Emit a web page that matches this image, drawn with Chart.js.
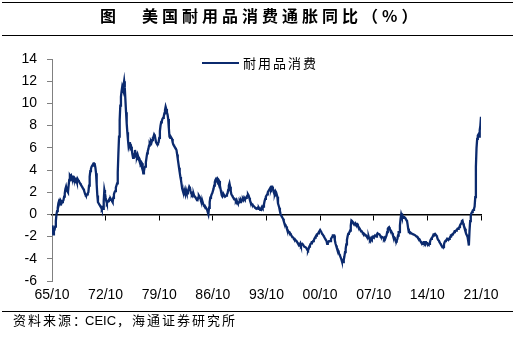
<!DOCTYPE html>
<html>
<head>
<meta charset="utf-8">
<script src="https://cdn.jsdelivr.net/npm/chart.js@4.4.0/dist/chart.umd.min.js"></script>
<style>
    body { margin: 0; width: 515px; height: 345px; position: relative; background: #fff; overflow: hidden; font-family: "Noto Sans CJK SC", sans-serif; }
    #wrap { position: absolute; left: 0; top: 0; width: 515px; height: 345px; }
    .rule { position: absolute; left: 2px; width: 511px; height: 0; border-top: 1.5px solid #000; }
    #title { position: absolute; left: 100px; top: 5px; font-size: 16px; font-weight: bold; line-height: 20px; color: #000; white-space: nowrap; }
    #title .t { position: absolute; left: 42px; top: 0; letter-spacing: 4px; }
    #legend { position: absolute; left: 202px; top: 55px; height: 16px; font-size: 13px; letter-spacing: 2px; color: #000; line-height: 16px; white-space: nowrap; }
    #legend span.ln { display: inline-block; width: 37px; height: 2px; background: #0b2a6e; vertical-align: middle; margin-right: 4px; margin-top: -2px; }
    #source { position: absolute; left: 13px; top: 312px; font-size: 13px; line-height: 16px; letter-spacing: 2px; color: #000; white-space: nowrap; }
    #source b { font-weight: normal; font-family: "Liberation Sans", Arial, sans-serif; letter-spacing: 0; margin: 0 1px 0 -3px; }
</style>
</head>
<body>
<div id="wrap"><canvas id="myChartDurables" width="515" height="345"></canvas></div>
<div class="rule" style="top:2px"></div>
<div id="title">图<span class="t">美国耐用品消费通胀同比（%）</span></div>
<div class="rule" style="top:35px"></div>
<div id="legend"><span class="ln"></span>耐用品消费</div>
<div class="rule" style="top:311px"></div>
<div id="source">资料来源：<b>CEIC</b>，海通证券研究所</div>

<script>
// x tick labels, one every 84 months starting 1965/10
const tickLabels = ['65/10', '72/10', '79/10', '86/10', '93/10', '00/10', '07/10', '14/10', '21/10'];
const seriesName = '耐用品消费';
const yTicks = [-6, -4, -2, 0, 2, 4, 6, 8, 10, 12, 14];

// monthly YoY %, one row = Oct..Sep of the next year, from 1965/10
const durables = [
    -1.0, -1.3, -1.8, -1.5, -1.4, -1.1, -0.6, 0.0, 0.3, 0.6, 1.0, 1.2,
    1.1, 1.3, 1.2, 1.0, 1.1, 1.2, 1.3, 1.6, 1.9, 2.3, 2.5, 2.2,
    2.1, 2.0, 2.6, 3.1, 3.5, 3.4, 3.5, 3.3, 3.4, 3.4, 3.2, 3.3,
    3.2, 3.0, 3.1, 2.9, 3.2, 3.1, 3.0, 2.9, 2.8, 2.7, 2.6, 2.5,
    2.5, 2.3, 2.2, 2.0, 1.8, 1.7, 1.7, 1.8, 1.9, 2.0, 2.6, 3.4,
    3.9, 4.1, 4.3, 4.4, 4.5, 4.6, 4.6, 4.5, 4.2, 3.7, 2.7, 1.7,
    1.1, 1.0, 0.9, 0.8, 0.7, 0.7, 0.5, 0.6, 0.5, 1.2, 2.2, 1.9,
    1.5, 1.2, 1.0, 1.1, 1.2, 1.3, 1.4, 1.3, 1.4, 1.3, 1.2, 1.1,
    1.5, 1.8, 2.0, 2.1, 2.4, 2.6, 2.8, 3.8, 5.5, 7.0, 8.5, 9.8,
    10.6, 11.1, 11.5, 11.3, 11.6, 12.0, 11.4, 10.3, 9.2, 8.2, 7.4, 6.7,
    6.1, 6.3, 6.5, 6.0, 6.1, 5.8, 5.4, 5.1, 5.3, 5.2, 5.8, 5.5,
    5.3, 5.2, 5.4, 5.2, 5.0, 5.0, 4.8, 4.6, 4.7, 4.6, 4.1, 3.7,
    3.9, 4.2, 4.3, 4.7, 5.1, 5.5, 5.7, 5.9, 6.2, 6.4, 6.3, 6.6,
    6.5, 6.7, 6.9, 7.0, 7.2, 7.1, 6.8, 6.5, 6.4, 6.3, 6.4, 6.5,
    6.9, 7.5, 8.0, 8.3, 8.4, 8.6, 8.7, 8.8, 9.1, 9.4, 9.7, 9.5,
    9.2, 9.0, 8.6, 7.8, 7.0, 6.9, 7.0, 6.9, 6.8, 6.5, 6.3, 6.2,
    6.1, 6.0, 5.9, 5.8, 5.4, 5.0, 4.6, 4.2, 3.8, 3.4, 3.1, 2.7,
    2.3, 2.1, 1.9, 1.8, 2.0, 1.8, 2.2, 2.0, 1.9, 2.1, 2.3, 2.5,
    2.4, 2.1, 1.9, 1.8, 1.9, 1.7, 1.8, 1.6, 1.6, 1.5, 1.4, 1.4,
    1.3, 1.5, 1.7, 1.6, 1.5, 1.3, 1.1, 1.0, 1.1, 0.9, 0.8, 0.8,
    0.7, 0.6, 0.5, 0.4, 0.2, 0.05, 0.6, 1.1, 1.5, 1.6, 1.8, 1.9,
    1.9, 2.3, 2.6, 2.9, 3.1, 3.2, 3.1, 3.2, 3.0, 3.1, 3.0, 2.6,
    2.3, 2.0, 1.7, 1.6, 1.7, 1.8, 1.7, 1.6, 1.6, 1.7, 1.8, 1.9,
    2.2, 2.6, 2.8, 2.5, 2.1, 1.8, 1.7, 1.6, 1.5, 1.5, 1.4, 1.3,
    1.2, 1.3, 1.1, 1.0, 1.0, 1.1, 1.2, 1.1, 1.3, 1.2, 1.3, 1.4,
    1.3, 1.5, 1.4, 1.4, 1.5, 1.6, 1.7, 1.8, 1.7, 1.5, 1.3, 1.1,
    1.0, 0.9, 0.9, 0.8, 0.8, 0.7, 0.6, 0.6, 0.5, 0.5, 0.6, 0.5,
    0.6, 0.5, 0.4, 0.5, 0.6, 0.7, 0.6, 0.7, 0.9, 1.2, 1.4, 1.6,
    1.7, 1.8, 2.0, 2.1, 2.2, 2.2, 2.4, 2.3, 2.5, 2.5, 2.3, 2.1,
    2.0, 1.9, 2.1, 2.0, 2.0, 1.6, 1.0, 0.8, 0.6, 0.3, 0.05, -0.1,
    -0.2, -0.3, -0.4, -0.6, -0.8, -0.9, -1.0, -1.1, -1.3, -1.4, -1.5, -1.6,
    -1.6, -1.7, -1.8, -1.9, -2.0, -2.0, -2.1, -2.2, -2.2, -2.3, -2.3, -2.4,
    -2.5, -2.6, -2.7, -2.8, -2.7, -2.6, -2.8, -2.7, -2.65, -2.7, -2.8, -2.9,
    -2.9, -2.95, -3.0, -3.1, -3.2, -3.25, -3.1, -2.9, -2.8, -2.65, -2.6, -2.5,
    -2.5, -2.4, -2.35, -2.2, -2.1, -2.0, -1.9, -1.8, -1.75, -1.7, -1.6, -1.5,
    -1.4, -1.4, -1.6, -1.75, -1.8, -1.9, -2.0, -2.1, -2.2, -2.2, -2.4, -2.65,
    -2.6, -2.5, -2.4, -2.4, -2.4, -2.2, -2.1, -2.0, -1.9, -1.9, -1.9, -2.3,
    -2.6, -2.8, -3.0, -3.1, -3.25, -3.4, -3.6, -3.7, -3.85, -4.0, -4.2, -4.3,
    -4.3, -4.1, -3.8, -3.4, -3.1, -2.7, -2.3, -2.0, -1.75, -1.7, -1.6, -1.45,
    -1.0, -0.55, -0.6, -0.7, -0.8, -0.85, -0.9, -0.8, -0.9, -0.85, -0.85, -1.0,
    -1.1, -1.2, -1.3, -1.4, -1.45, -1.5, -1.6, -1.7, -1.7, -1.75, -1.8, -1.9,
    -1.9, -2.0, -2.05, -2.1, -2.0, -2.2, -2.3, -2.2, -2.1, -2.2, -2.1, -2.0,
    -2.05, -2.0, -1.9, -1.9, -2.0, -1.8, -1.7, -1.75, -1.75, -1.8, -1.9, -2.0,
    -2.0, -2.05, -2.05, -2.1, -2.2, -2.1, -2.2, -2.2, -1.9, -1.6, -1.3, -1.2,
    -1.15, -1.3, -1.4, -1.5, -1.6, -1.7, -1.9, -2.0, -2.05, -2.2, -2.3, -2.3,
    -2.35, -2.2, -1.9, -1.6, -1.6, -1.0, -0.4, 0.0, -0.2, -0.1, -0.3, -0.25,
    -0.25, -0.3, -0.4, -0.5, -0.55, -0.9, -1.3, -1.6, -1.6, -1.7, -1.65, -1.7,
    -1.75, -1.75, -1.8, -1.8, -1.85, -1.9, -1.9, -2.0, -2.0, -2.1, -2.2, -2.2,
    -2.3, -2.4, -2.5, -2.6, -2.65, -2.6, -2.5, -2.5, -2.6, -2.5, -2.5, -2.6,
    -2.6, -2.65, -2.7, -2.65, -2.5, -2.3, -2.2, -2.1, -2.05, -1.9, -1.8, -1.8,
    -1.75, -1.75, -1.9, -2.0, -2.2, -2.3, -2.35, -2.5, -2.6, -2.7, -2.8, -2.9,
    -2.95, -2.95, -2.7, -2.5, -2.4, -2.35, -2.3, -2.2, -2.2, -2.3, -2.2, -2.1,
    -2.0, -1.9, -1.9, -1.8, -1.75, -1.7, -1.6, -1.5, -1.5, -1.45, -1.4, -1.3,
    -1.3, -1.2, -1.15, -1.0, -0.9, -0.8, -0.6, -0.55, -0.8, -1.0, -1.15, -1.3,
    -1.6, -1.8, -1.9, -2.05, -2.4, -2.8, -1.5, -0.6, -0.1, 0.1, 0.2, 0.35,
    0.4, 0.5, 0.7, 1.55, 4.3, 6.0, 6.8, 7.1, 7.2, 7.0, 7.6, 8.0,
    8.8
];

const points = durables.map((v, i) => ({ x: i, y: v }));
const lastIdx = durables.length - 1;

const myChartDurables = new Chart(document.getElementById('myChartDurables'), {
    type: 'line',
    data: {
        datasets: [{
            label: seriesName,
            data: points,
            borderColor: '#0b2a6e',
            borderWidth: 2.3,
            pointRadius: 0,
            tension: 0,
            fill: false
        }]
    },
    options: {
        responsive: false,
        animation: false,
        layout: { padding: { top: 59, right: 34, bottom: 0, left: 0 } },
        plugins: {
            legend: { display: false },
            tooltip: { enabled: false }
        },
        scales: {
            x: {
                type: 'linear',
                position: 'bottom',
                min: 0,
                max: lastIdx,
                afterBuildTicks: (s) => { s.ticks = tickLabels.map((t, i) => ({ value: i * 84 })); },
                afterFit: (s) => { s.height = 64; },
                grid: { display: false, drawTicks: false },
                border: { display: false },
                ticks: {
                    padding: 6,
                    maxRotation: 0,
                    autoSkip: false,
                    color: '#000',
                    font: { family: 'Liberation Sans', size: 14 },
                    callback: (v) => tickLabels[Math.round(v / 84)]
                }
            },
            x2: {
                type: 'linear',
                axis: 'x',
                position: { y: 0 },
                min: 0,
                max: lastIdx,
                afterBuildTicks: (s) => { s.ticks = tickLabels.map((t, i) => ({ value: i * 84 })); },
                grid: { drawOnChartArea: false, drawTicks: true, tickLength: 5, color: '#000' },
                border: { display: true, color: '#000', width: 1.5 },
                ticks: { display: false }
            },
            y: {
                min: -6,
                max: 14,
                afterBuildTicks: (s) => { s.ticks = yTicks.map(v => ({ value: v })); },
                afterFit: (s) => { s.width = 52; },
                grid: { drawOnChartArea: false, tickLength: 5, color: '#808080' },
                border: { display: true, color: '#808080', width: 1 },
                ticks: {
                    padding: 10,
                    color: '#000',
                    font: { family: 'Liberation Sans', size: 14 }
                }
            }
        }
    }
});
</script>
</body>
</html>
